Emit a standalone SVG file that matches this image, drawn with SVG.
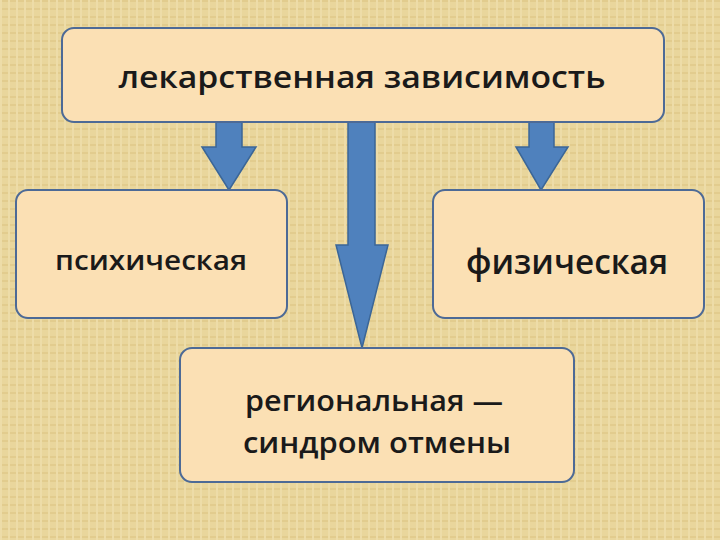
<svg xmlns="http://www.w3.org/2000/svg" width="720" height="540" viewBox="0 0 720 540">
<style>
.box{fill:#fbe0b4;stroke:#4d6a96;stroke-width:2}
.arr{fill:#4f81bd;stroke:#3b6697;stroke-width:1.5}
text{font-family:"Open Sans","DejaVu Sans",sans-serif;font-weight:600;fill:#1a1a1a;text-anchor:middle}
</style>
<defs>
<pattern id="tex" width="8" height="8" patternUnits="userSpaceOnUse">
<rect width="8" height="8" fill="#e9d69c"/>
<rect width="8" height="2" fill="#e2cc8e"/>
<rect width="2" height="8" fill="#eddca8"/>
</pattern>
</defs>
<rect width="720" height="540" fill="url(#tex)"/>
<g id="connectors">
<polygon class="arr" points="216,122 242,122 242,147 256,147 229,190 202,147 216,147"/>
<polygon class="arr" points="348,122 375,122 375,245 388,245 362,348 336,245 348,245"/>
<polygon class="arr" points="529,122 554,122 554,147 568,147 541,190 516,147 529,147"/>
</g>
<g id="top"><rect class="box" x="62" y="28" width="602" height="94" rx="12"/><text x="362" y="88" font-size="31" textLength="487" lengthAdjust="spacingAndGlyphs">лекарственная зависимость</text></g>
<g id="left"><rect class="box" x="16" y="190" width="271" height="128" rx="12"/><text x="151" y="270" font-size="27" textLength="192" lengthAdjust="spacingAndGlyphs">психическая</text></g>
<g id="right"><rect class="box" x="433" y="190" width="271" height="128" rx="12"/><text x="567" y="274" font-size="34" textLength="202" lengthAdjust="spacingAndGlyphs">физическая</text></g>
<g id="bottom"><rect class="box" x="180" y="348" width="394" height="134" rx="12"/><text x="374" y="411" font-size="29" textLength="258" lengthAdjust="spacingAndGlyphs">региональная —</text><text x="377" y="453" font-size="29" textLength="268" lengthAdjust="spacingAndGlyphs">синдром отмены</text></g>
</svg>
